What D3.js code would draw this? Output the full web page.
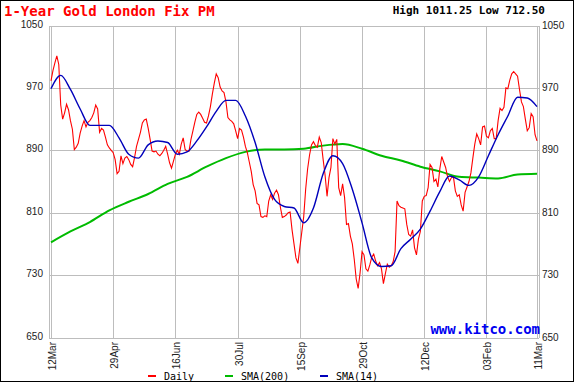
<!DOCTYPE html>
<meta charset="utf-8">
<style>
body { margin: 0; background: #fff; }
svg { display: block; font-family: "Liberation Sans", Arial, sans-serif; }
.grid line { stroke: #bdbdbd; stroke-width: 1px; shape-rendering: crispEdges; }
.ylab, .xlab { font-size: 10px; fill: #222; }
.mono { font-family: "DejaVu Sans Mono", monospace; }
</style>
<body>
<svg width="574" height="382"></svg>
<script src="https://cdn.jsdelivr.net/npm/d3@7"></script>
<script>

//chart values, one per trading day, 12Mar to 11Mar
var daily_values = [
  979, 992, 1002, 1011, 1000, 948, 930, 938, 949, 942,
  928, 917, 891, 894, 899, 912, 921, 928, 920, 926,
  928, 932, 938, 948, 943, 913, 918, 916, 907, 897,
  893, 890, 887, 878, 860, 863, 883, 873, 880, 882,
  878, 872, 869, 881, 895, 904, 913, 925, 929, 930,
  918, 904, 889, 888, 889, 885, 883, 886, 890, 895,
  885, 874, 867, 876, 885, 890, 885, 898, 906, 891,
  889, 889, 904, 915, 926, 936, 939, 936, 931, 926,
  925, 934, 946, 962, 976, 988, 983, 971, 966, 964,
  952, 932, 929, 927, 924, 915, 905, 918, 916, 907,
  895, 887, 875, 863, 846, 838, 822, 820, 805, 804,
  806, 805, 825, 833, 827, 835, 839, 833, 817, 804,
  805, 807, 810, 811, 788, 770, 752, 745, 765, 785,
  805, 840, 866, 884, 897, 901, 896, 894, 907, 900,
  878, 858, 831, 855, 868, 905, 898, 904, 842, 832,
  847, 830, 795, 796, 780, 770, 750, 725, 713, 733,
  760, 756, 738, 735, 743, 753, 757, 748, 742, 746,
  738, 719, 732, 744, 740, 742, 747, 760, 825, 819,
  817, 816, 815, 795, 782, 780, 788, 765, 756, 776,
  786, 825, 831, 832, 842, 872, 868, 850, 853, 843,
  866, 882, 875, 868, 856, 850, 855, 856, 838, 831,
  833, 820, 812, 836, 843, 850, 861, 880, 898, 911,
  905, 897, 920, 921, 908, 906, 915, 918, 905, 905,
  928, 944, 941, 945, 970, 969, 980, 988, 991, 988,
  985, 968, 952, 946, 930, 915, 919, 937, 933, 910,
  902
];

//14 day average, read every 5th trading day
var sma14_values = [
  969, 986, 968, 943, 922, 922, 922, 906, 885, 880,
  897, 902, 900, 885, 888, 902, 920, 940, 954, 954,
  934, 900, 856, 827, 818, 816, 797, 816, 860, 883,
  873, 840, 797, 752, 741, 742, 764, 776, 789, 812,
  837, 857, 852, 845, 856, 883, 910, 934, 958, 957,
  946
];

//200 day average, read every 10th trading day
var sma200_values = [
  772, 786, 798, 813, 824, 834, 847, 856, 869, 880,
  888, 891, 891, 892, 896, 898, 892, 883, 877, 869,
  863, 856, 855, 854, 859, 860
];

var date_labels = ["12Mar", "29Apr", "16Jun", "30Jul", "15Sep", "29Oct", "12Dec", "03Feb", "11Mar"];
var date_index = [0, 32, 64, 96, 128, 160, 192, 224, 250];
var price_ticks = [650, 730, 810, 890, 970, 1050];

var high_value = "1011.25", low_value = "712.50";

var svg = d3.select("svg"),
    width = +svg.attr("width"),
    height = +svg.attr("height");

var plot_left = 49, plot_right = 539, plot_top = 25.5, plot_bottom = 337.5;

var x = d3.scaleLinear().domain([0, daily_values.length - 1]).range([51, 537]);
var y = d3.scaleLinear().domain([650, 1050]).range([plot_bottom, plot_top]);

//outer frame
svg.append("rect")
    .attr("x", 0.5).attr("y", 0.5)
    .attr("width", width - 1).attr("height", height - 1)
    .attr("fill", "#fff").attr("stroke", "#000");

//title and high / low
svg.append("text")
    .attr("class", "mono")
    .attr("x", 4).attr("y", 15.5)
    .attr("font-size", 14).attr("font-weight", "bold")
    .attr("fill", "#f00")
    .text("1-Year Gold London Fix PM");

svg.append("text")
    .attr("class", "mono")
    .attr("x", 545).attr("y", 14)
    .attr("text-anchor", "end")
    .attr("font-size", 11).attr("font-weight", "bold")
    .attr("fill", "#000")
    .text("High " + high_value + " Low " + low_value);

//grid
var grid = svg.append("g").attr("class", "grid");

grid.selectAll(".hline")
    .data(price_ticks)
    .enter().append("line")
    .attr("x1", plot_left).attr("x2", plot_right)
    .attr("y1", function(d) { return Math.round(y(d)) + 0.5; })
    .attr("y2", function(d) { return Math.round(y(d)) + 0.5; });

grid.selectAll(".vline")
    .data(date_index)
    .enter().append("line")
    .attr("x1", function(d) { return Math.round(x(d)) + 0.5; })
    .attr("x2", function(d) { return Math.round(x(d)) + 0.5; })
    .attr("y1", plot_top).attr("y2", plot_bottom);

grid.append("line")
    .attr("x1", plot_left + 0.5).attr("x2", plot_left + 0.5)
    .attr("y1", plot_top).attr("y2", plot_bottom);
grid.append("line")
    .attr("x1", plot_right + 0.5).attr("x2", plot_right + 0.5)
    .attr("y1", plot_top).attr("y2", plot_bottom);

//price labels both sides
svg.selectAll(".ylab_left")
    .data(price_ticks)
    .enter().append("text")
    .attr("class", "ylab")
    .attr("x", 43).attr("y", function(d) { return y(d) + 2; })
    .attr("text-anchor", "end")
    .text(function(d) { return d; });

svg.selectAll(".ylab_right")
    .data(price_ticks)
    .enter().append("text")
    .attr("class", "ylab")
    .attr("x", 542).attr("y", function(d) { return y(d) + 3; })
    .text(function(d) { return d; });

//date labels, rotated
svg.selectAll(".xlab")
    .data(date_index)
    .enter().append("text")
    .attr("class", "xlab")
    .attr("text-anchor", "end")
    .attr("transform", function(d) { return "translate(" + (Math.round(x(d)) + 4.5) + ",342) rotate(-90)"; })
    .text(function(d, i) { return date_labels[i]; });

//site name
svg.append("text")
    .attr("class", "mono")
    .attr("x", 540).attr("y", 334)
    .attr("text-anchor", "end")
    .attr("font-size", 14).attr("font-weight", "bold")
    .attr("fill", "#0000f0")
    .text("www.kitco.com");

//lines
var daily_line = d3.line()
    .x(function(d, i) { return x(i); })
    .y(function(d) { return y(d); });

var sma14_line = d3.line()
    .x(function(d, i) { return x(Math.min(i * 5, daily_values.length - 1)); })
    .y(function(d) { return y(d); })
    .curve(d3.curveMonotoneX);

var sma200_line = d3.line()
    .x(function(d, i) { return x(Math.min(i * 10, daily_values.length - 1)); })
    .y(function(d) { return y(d); })
    .curve(d3.curveMonotoneX);

svg.append("path")
    .datum(sma200_values)
    .attr("fill", "none").attr("stroke", "#00bb00").attr("stroke-width", 2)
    .attr("d", sma200_line);

svg.append("path")
    .datum(daily_values)
    .attr("fill", "none").attr("stroke", "#ff0000").attr("stroke-width", 1.1)
    .attr("d", daily_line);

svg.append("path")
    .datum(sma14_values)
    .attr("fill", "none").attr("stroke", "#0000bb").attr("stroke-width", 1.4)
    .attr("d", sma14_line);

//legend
var legend_items = [
    {name: "Daily", colour: "#ff0000", x: 148},
    {name: "SMA(200)", colour: "#00bb00", x: 225},
    {name: "SMA(14)", colour: "#0000bb", x: 320}
];

var legend = svg.selectAll(".legend")
    .data(legend_items)
    .enter().append("g")
    .attr("transform", function(d) { return "translate(" + d.x + ",0)"; });

legend.append("rect")
    .attr("x", 0).attr("y", 375)
    .attr("width", 8).attr("height", 2)
    .attr("fill", function(d) { return d.colour; });

legend.append("text")
    .attr("class", "mono")
    .attr("x", 16).attr("y", 380)
    .attr("font-size", 10)
    .attr("fill", "#000")
    .text(function(d) { return d.name; });

</script>
</body>
